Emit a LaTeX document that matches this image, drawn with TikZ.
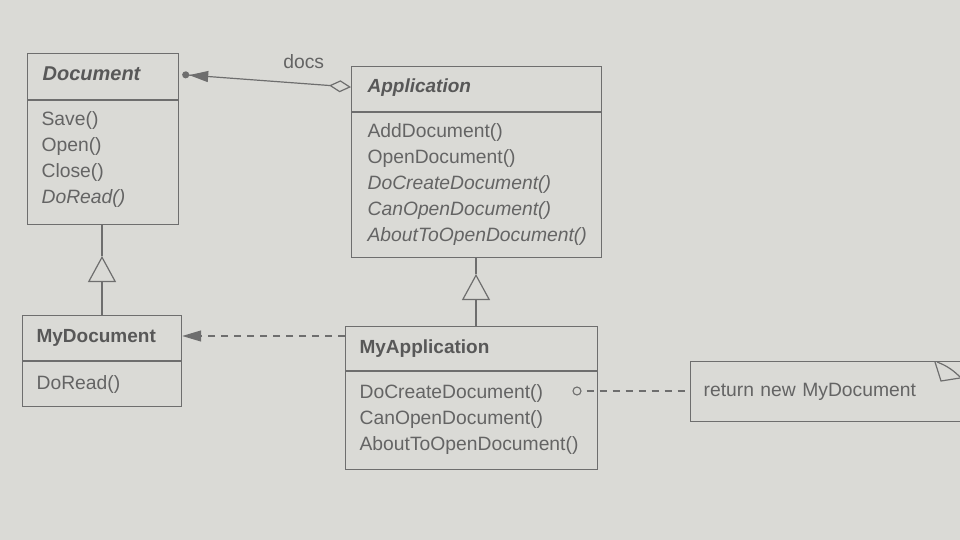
\documentclass[tikz,border=0pt]{standalone}
\usepackage{fontspec}
\setmainfont{Liberation Sans}
\usetikzlibrary{arrows.meta,calc}
\definecolor{bg}{RGB}{218,218,214}
\definecolor{linec}{RGB}{110,110,110}
\definecolor{txt}{RGB}{100,100,100}
\definecolor{ttl}{RGB}{88,88,88}
\newcommand{\upby}[3]{\parbox{#1}{#3\par\vspace{#2}}}
\begin{document}
\begin{tikzpicture}[x=1pt,y=-1pt,
  box/.style={draw=linec, line width=1.2pt, anchor=north west, inner xsep=14pt, inner ysep=0pt,
    align=left, text=txt, font=\fontsize{19.3}{26}\selectfont},
  ttl/.style={box, text=ttl, font=\fontsize{19}{22}\selectfont\bfseries},
  conn/.style={draw=linec, line width=1.2pt},
  dsh/.style={conn, dash pattern=on 7pt off 6pt},
  gen/.style={conn, -{Triangle[open, length=26pt, width=28pt, line width=1.2pt]}},
  dep/.style={-{Triangle[length=19pt, width=11pt]}}
]
\fill[bg] (0,0) rectangle (960,540);
\useasboundingbox (0,0) rectangle (960,540);
\clip (0,0) rectangle (960,540);

% Document
\node[ttl, font=\fontsize{20}{22}\selectfont\bfseries\itshape, text width=121pt, minimum height=46pt, inner xsep=15pt] (docH) at (27,53) {\upby{121pt}{6pt}{Document}};
\node[box, text width=123pt, minimum height=124pt] (docB) at (docH.south west) {\upby{123pt}{6pt}{Save()\\Open()\\Close()\\\textit{DoRead()}}};

% MyDocument
\node[ttl, text width=131pt, minimum height=45pt] (mydocH) at (22,315) {MyDocument};
\node[box, text width=131pt, minimum height=45pt] (mydocB) at (mydocH.south west) {DoRead()};

% Application
\node[ttl, font=\fontsize{19}{22}\selectfont\bfseries\itshape, text width=218pt, minimum height=45pt, inner xsep=16pt] (appH) at (351,66) {\upby{218pt}{4pt}{Application}};
\node[box, text width=218pt, minimum height=145pt, inner xsep=16pt] (appB) at (appH.south west) {\upby{218pt}{2pt}{AddDocument()\\OpenDocument()\\\textit{DoCreateDocument()}\\\textit{CanOpenDocument()}\\\textit{AboutToOpenDocument()}}};

% MyApplication
\node[ttl, text width=224pt, minimum height=44pt] (myappH) at (345,326) {MyApplication};
\node[box, text width=224pt, minimum height=98pt] (myappB) at (myappH.south west) {\upby{224pt}{2pt}{DoCreateDocument()\\CanOpenDocument()\\AboutToOpenDocument()}};

% Note
\node[box, text width=274pt, minimum height=60pt, inner xsep=13pt] (note) at (690,361) {return new MyDocument};
\draw[conn] (935,362) -- (941,381) -- (960,378);
\draw[conn] (937,362) .. controls (948,366) and (955,372) .. (960,377);

% docs association
\draw[conn, {Circle[length=7pt] Triangle[length=19pt, width=11pt]}-{Diamond[open, length=22pt, width=12pt, line width=1.2pt]}]
  ([xshift=3pt, yshift=2pt]docH.east) -- ([yshift=2pt]appH.west) node[pos=0.72, above=11pt, text=txt, font=\fontsize{19.3}{22}\selectfont] (docslbl) {docs};

% generalizations
\coordinate (t1) at (102,256);
\draw[gen] (mydocH.north -| t1) -- (t1);
\draw[conn] (t1) -- (docB.south -| t1);
\coordinate (t2) at (476,274);
\draw[gen] (myappH.north -| t2) -- (t2);
\draw[conn] (t2) -- (appB.south -| t2);

% dependency
\coordinate (dy) at (0,336);
\draw[dsh, dep] (myappH.north west |- dy) -- (mydocH.north east |- dy);

% note anchor
\node[circle, draw=linec, line width=1.1pt, minimum size=8pt, inner sep=0pt] (dot) at (577,391) {};
\draw[dsh] ([xshift=5pt]dot.east) -- (note.west |- dot);
\end{tikzpicture}
\end{document}
